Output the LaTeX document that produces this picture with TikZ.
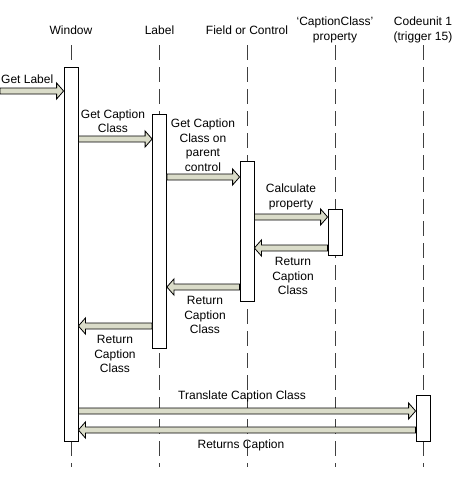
\documentclass[tikz,border=0pt]{standalone}
\usepackage{fontspec}
\setmainfont{Liberation Sans}
\usepackage{tikz}
\usetikzlibrary{calc}
\definecolor{msgfill}{HTML}{DADCC9}
\definecolor{lifegray}{HTML}{404040}

% thick message arrow between two anchors at height #3
\newcommand{\fatarrow}[3]{%
  \draw[fatarrow] let \p1=(#1 |- 0,#3), \p2=(#2 |- 0,#3),
    \n1={sign(\x2-\x1)} in
    (\x1,{\y1+3pt}) -- ({\x2-\n1*7pt},{\y1+3pt}) -- ({\x2-\n1*7pt},{\y1+8pt})
    -- (\x2,\y1) -- ({\x2-\n1*7pt},{\y1-8pt}) -- ({\x2-\n1*7pt},{\y1-3pt})
    -- (\x1,{\y1-3pt}) -- cycle;}

\begin{document}
\begin{tikzpicture}[x=1pt, y=-1pt,
every node/.style = {font=\fontsize{12}{14.5}\selectfont, align=center, inner sep=0pt},
head/.style = {anchor=center},
lifeline/.style = {draw=lifegray, line width=0.9pt, dash pattern=on 15pt off 7pt},
actbox/.style = {draw, line width=0.8pt, fill=white, minimum width=14pt},
fatarrow/.style = {draw=black, line width=0.8pt, fill=msgfill, line join=miter},
msg/.style = {anchor=center}
]
\useasboundingbox (0,0) rectangle (456,480);

% lifelines with their headers
\foreach \name/\x/\txt in {win/71/Window, lab/159.5/Label, fld/247/Field or Control,
    ccp/335/{`CaptionClass'\\property}, cu/423/{Codeunit 1\\(trigger 15)}} {
  \node[head] (h\name) at (\x,30) {\txt};
  \coordinate (t\name) at (\x,45);
  \draw[lifeline] (t\name) -- ++(0,422);
}

% activations
\node[actbox, minimum height=374pt] (win) at (71,254) {};
\node[actbox, minimum height=234pt] (lab) at (159.5,231) {};
\node[actbox, minimum height=140pt] (fld) at (247,231) {};
\node[actbox, minimum height=46pt] (ccp) at (335,232) {};
\node[actbox, minimum height=46pt] (cu) at (423,418) {};

% messages
\coordinate (src) at (0,91);
\fatarrow{src}{win.west}{91}
\fatarrow{win.east}{lab.west}{139}
\fatarrow{lab.east}{fld.west}{177}
\fatarrow{fld.east}{ccp.west}{217}
\fatarrow{ccp.west}{fld.east}{248}
\fatarrow{fld.west}{lab.east}{287}
\fatarrow{lab.west}{win.east}{326}
\fatarrow{win.east}{cu.west}{411}
\fatarrow{cu.west}{win.east}{430}

% message labels
\node[msg, anchor=west] (mGetLabel) at (1,79) {Get Label};
\node[msg] (mGetCC) at (113,121) {Get Caption\\Class};
\node[msg] (mParent) at (203,145) {Get Caption\\Class on\\parent\\control};
\node[msg] (mCalc) at (291,197) {Calculate\\property};
\node[msg] (mRet1) at (293,276) {Return\\Caption\\Class};
\node[msg] (mRet2) at (205,315) {Return\\Caption\\Class};
\node[msg] (mRet3) at (115,354) {Return\\Caption\\Class};
\node[msg] (mTrans) at (242,396) {Translate Caption Class};
\node[msg] (mRets) at (241,445) {Returns Caption};

\end{tikzpicture}
\end{document}
